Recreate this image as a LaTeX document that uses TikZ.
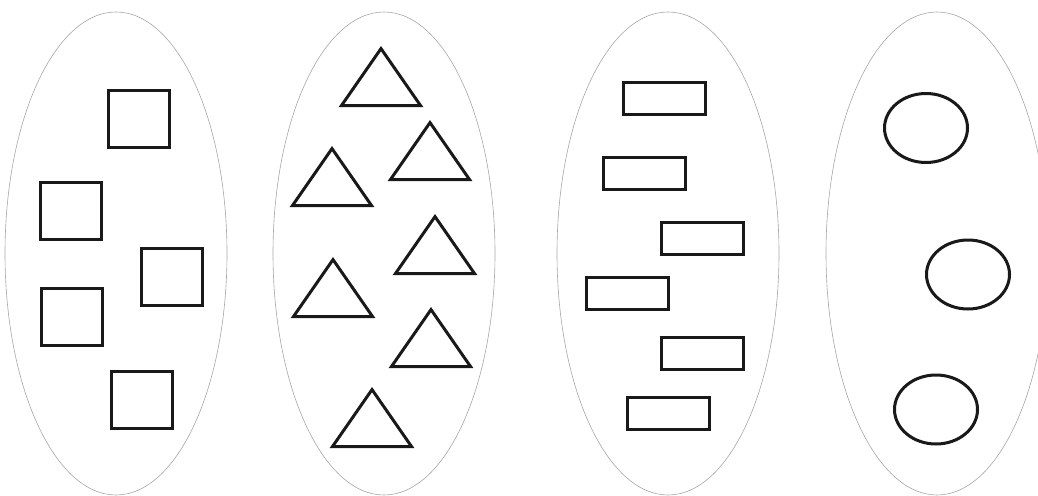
\documentclass[tikz,border=0pt]{standalone}
\usetikzlibrary{shapes.geometric}
\begin{document}
\begin{tikzpicture}[x=1pt, y=-1pt,
	group/.style={ellipse, draw=gray!70, line width=0.6pt, inner sep=0pt, minimum width=222pt, minimum height=483pt},
	square/.style={rectangle, draw=black!90, line width=3pt, inner sep=0pt, minimum width=61pt, minimum height=57pt},
	bar/.style={rectangle, draw=black!90, line width=3pt, inner sep=0pt, minimum width=82pt, minimum height=32pt},
	oval/.style={ellipse, draw=black!90, line width=3pt, inner sep=0pt, minimum width=83pt, minimum height=69pt},
	tri/.style={draw=black!90, line width=3pt, line join=miter}]
		\useasboundingbox (0,0) rectangle (1038,495);
		% the four groups
		\node[group] (g1) at (116,253.5) {};
		\node[group] (g2) at (384,253.5) {};
		\node[group] (g3) at (668,253.5) {};
		\node[group] (g4) at (937,253.5) {};
		% squares
		\node[square] (s1) at (139,119) {};
		\node[square] (s2) at (71,211) {};
		\node[square] (s3) at (172,277) {};
		\node[square] (s4) at (72,317) {};
		\node[square] (s5) at (142,400) {};
		% triangles
		\foreach \x/\y in {381/46, 430/120, 332/146, 435/214, 333/257, 431/307, 372/387}
			\draw[tri] (\x,\y+2.6) -- (\x-39.5,\y+59.5) -- (\x+39.5,\y+59.5) -- cycle;
		% bars
		\node[bar] (b1) at (664.5,98.5) {};
		\node[bar] (b2) at (644,173.5) {};
		\node[bar] (b3) at (702,238.5) {};
		\node[bar] (b4) at (627,293.5) {};
		\node[bar] (b5) at (702,353.5) {};
		\node[bar] (b6) at (668,413.5) {};
		% ovals
		\node[oval] (o1) at (926,128) {};
		\node[oval] (o2) at (968,274.5) {};
		\node[oval] (o3) at (936,409.5) {};
	\end{tikzpicture}
\end{document}
